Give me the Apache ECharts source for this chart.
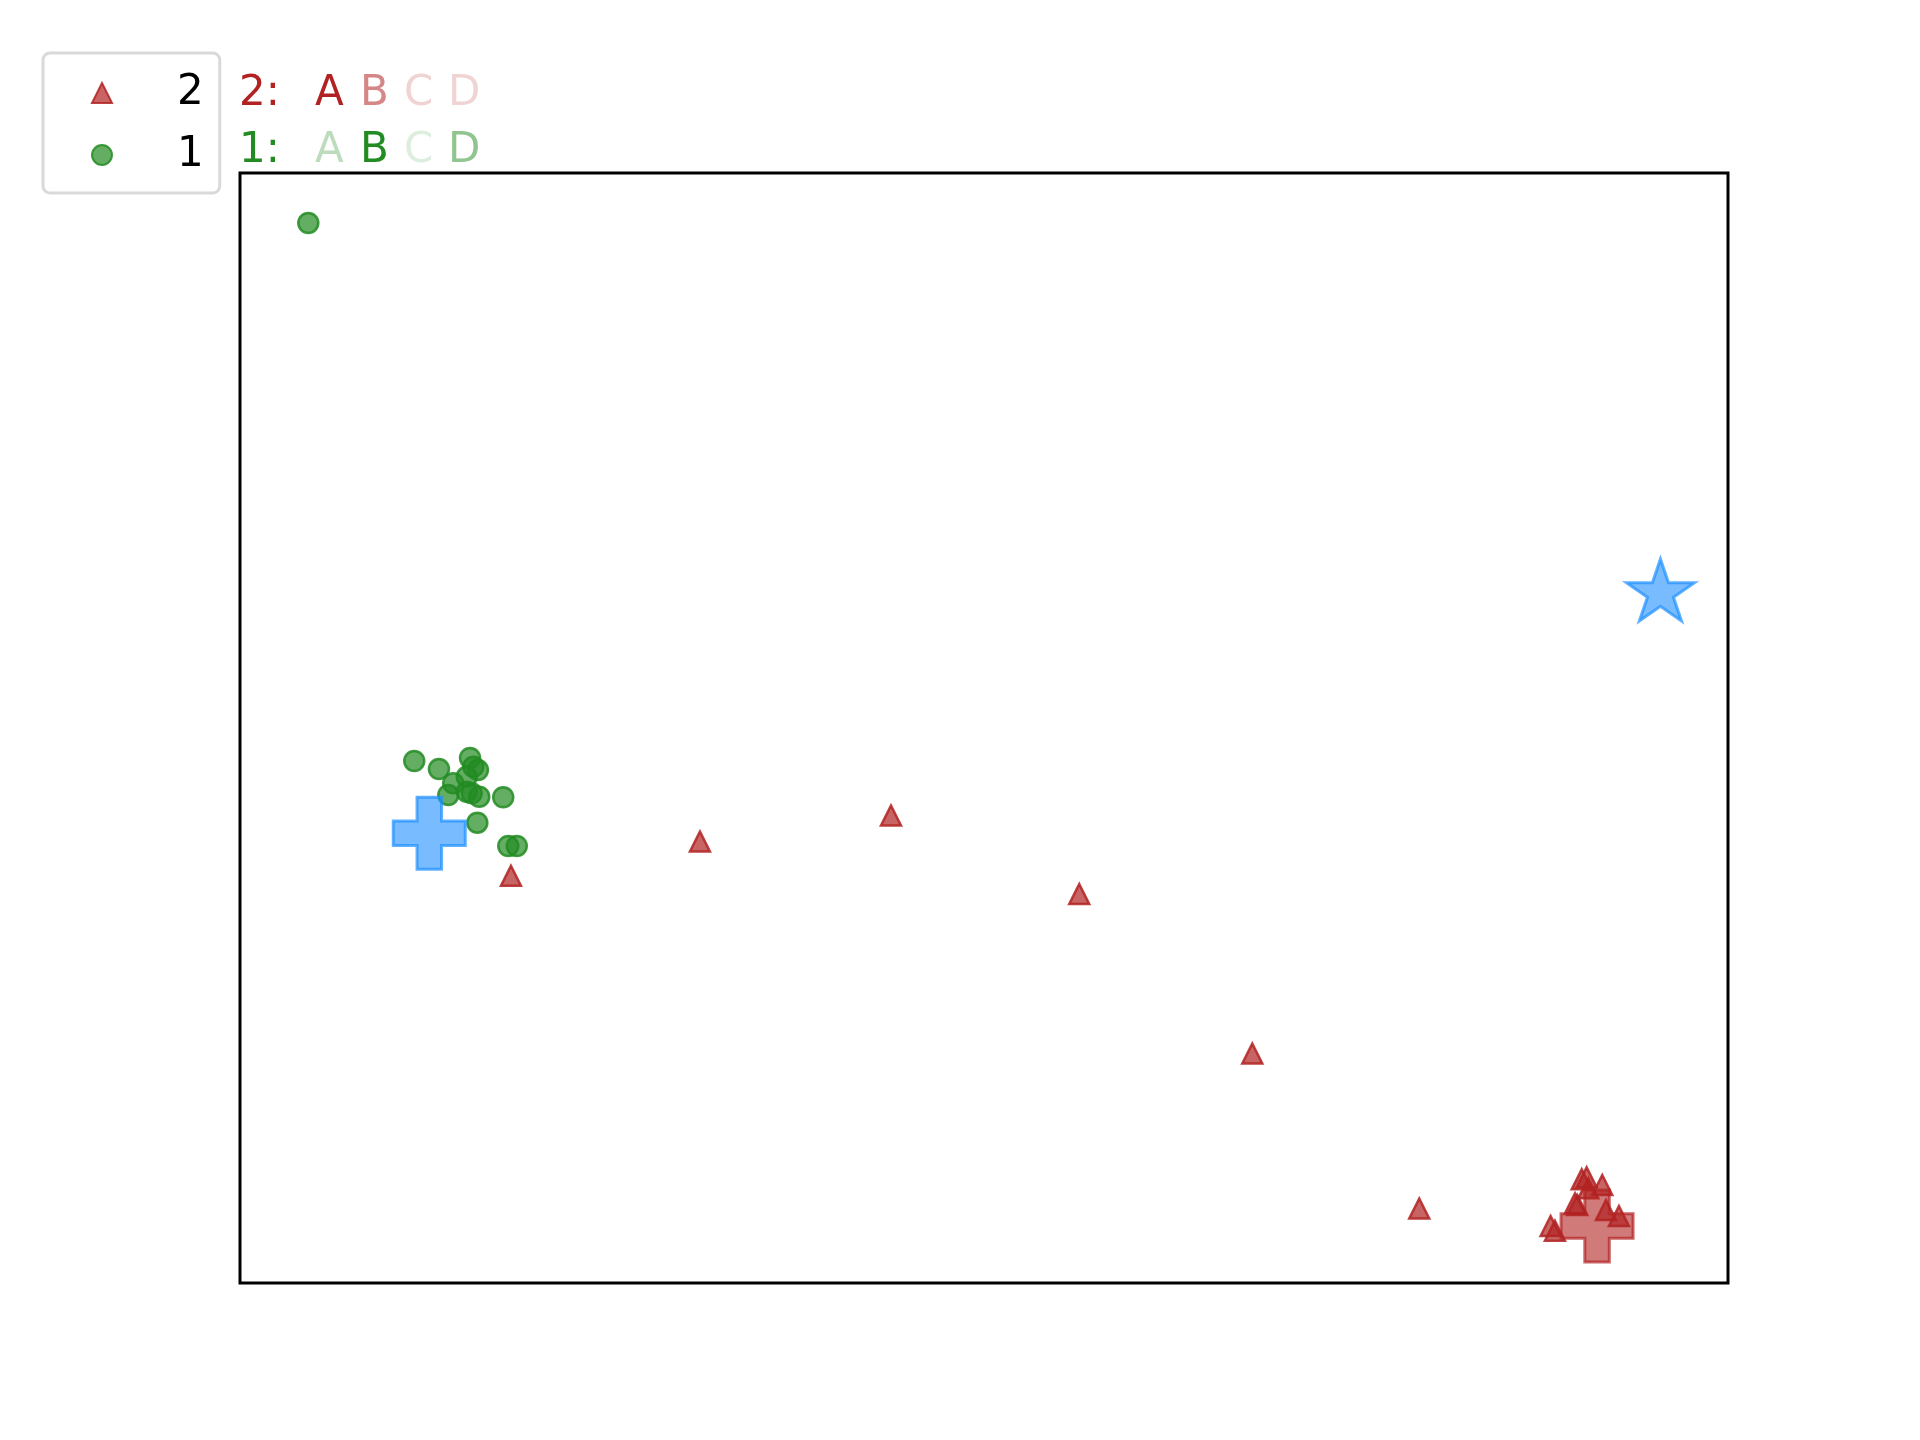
<!DOCTYPE html>
<html>
<head>
<meta charset="utf-8">
<script src="https://cdn.jsdelivr.net/npm/echarts@6/dist/echarts.min.js"></script>
<style>
  html, body { margin: 0; padding: 0; background: #fff; }
  #chart { width: 1920px; height: 1440px; }
</style>
</head>
<body>
<div id="chart"></div>
<script>
// class 2 (red triangles)
var class2X = [18.21, 30.91, 43.75, 56.40, 68.03, 79.25, 90.17, 90.50, 90.61, 91.55, 89.72, 89.87, 91.80, 92.67, 88.08, 88.37];
var class2Y = [36.69, 39.77, 42.12, 35.05, 20.68, 6.71, 9.34, 9.52, 8.53, 8.83, 7.18, 7.03, 6.58, 6.04, 5.14, 4.71];
// class 1 (green circles)
var class1X = [4.59, 11.71, 13.37, 15.46, 15.68, 15.99, 15.24, 14.33, 14.00, 15.24, 15.57, 16.08, 17.69, 15.95, 18.03, 18.60];
var class1Y = [95.5, 47.03, 46.31, 47.30, 46.51, 46.22, 45.61, 45.02, 43.96, 44.26, 44.12, 43.81, 43.76, 41.47, 39.37, 39.37];
// centres
var bluePlus = [12.72, 40.51];
var redPlus = [91.20, 5.14];
var starPoint = [95.46, 62.43];

// header rows
var letters = ['A', 'B', 'C', 'D'];
var row2Alpha = [1, 0.55, 0.2, 0.2];
var row1Alpha = [0.3, 1, 0.15, 0.5];

var FONT = 'DejaVu Sans';
var RED = '#b22222';
var GREEN = '#228b22';

function pairs(xs, ys) {
  return xs.map(function (x, i) { return [x, ys[i]]; });
}

var plusPath = 'path://M33 0L67 0L67 33L100 33L100 67L67 67L67 100L33 100L33 67L0 67L0 33L33 33Z';
var starPath = 'path://M100 0L122.45 69.1L195.11 69.1L136.33 111.8L158.78 180.9L100 138.2L41.22 180.9L63.67 111.8L4.89 69.1L77.55 69.1Z';

var letterX = [316, 361, 405, 449];
var headerGraphics = [];
function addRow(label, color, alphas, y) {
  headerGraphics.push({
    type: 'text', x: 239, y: y,
    style: { text: label, fill: color, font: '42px "' + FONT + '"', verticalAlign: 'middle' }
  });
  letters.forEach(function (l, i) {
    headerGraphics.push({
      type: 'text', x: letterX[i] - 1, y: y,
      style: { text: l, fill: color, opacity: alphas[i], font: '42px "' + FONT + '"', verticalAlign: 'middle' }
    });
  });
}
addRow('2:', RED, row2Alpha, 94);
addRow('1:', GREEN, row1Alpha, 151);

var chart = echarts.init(document.getElementById('chart'));
var option = {
  animation: false,
  backgroundColor: '#fff',
  grid: {
    left: 240, top: 173, width: 1488, height: 1110,
    show: true, borderColor: '#000', borderWidth: 3, backgroundColor: 'transparent'
  },
  xAxis: {
    type: 'value', min: 0, max: 100,
    axisLine: { show: false }, axisTick: { show: false },
    axisLabel: { show: false }, splitLine: { show: false }
  },
  yAxis: {
    type: 'value', min: 0, max: 100,
    axisLine: { show: false }, axisTick: { show: false },
    axisLabel: { show: false }, splitLine: { show: false }
  },
  legend: {
    data: ['2', '1'],
    orient: 'vertical',
    left: 43, top: 53,
    padding: [18, 16, 16, 48],
    itemWidth: 20, itemHeight: 20, itemGap: 18,
    backgroundColor: '#fff',
    borderColor: '#d9d9d9', borderWidth: 3, borderRadius: 7,
    textStyle: { fontSize: 42, fontFamily: FONT, color: '#000', lineHeight: 44, padding: [0, 0, 0, 60] }
  },
  graphic: headerGraphics,
  series: [
    {
      name: 'redCentre', type: 'scatter', symbol: plusPath, symbolSize: 72,
      data: [redPlus],
      itemStyle: { color: 'rgba(178,34,34,0.6)', borderColor: 'rgba(178,34,34,0.7)', borderWidth: 3, opacity: 1 }
    },
    {
      name: '2', type: 'scatter', symbol: 'triangle', symbolSize: 20,
      data: pairs(class2X, class2Y),
      itemStyle: { color: 'rgba(178,34,34,0.7)', borderColor: 'rgba(178,34,34,0.85)', borderWidth: 2.5, opacity: 1 }
    },
    {
      name: '1', type: 'scatter', symbol: 'circle', symbolSize: 20,
      data: pairs(class1X, class1Y),
      itemStyle: { color: 'rgba(34,139,34,0.7)', borderColor: 'rgba(34,139,34,0.85)', borderWidth: 2.5, opacity: 1 }
    },
    {
      name: 'blueCentre', type: 'scatter', symbol: plusPath, symbolSize: 72,
      data: [bluePlus],
      itemStyle: { color: 'rgba(30,144,255,0.6)', borderColor: 'rgba(30,144,255,0.7)', borderWidth: 3, opacity: 1 }
    },
    {
      name: 'star', type: 'scatter', symbol: starPath, symbolKeepAspect: true, symbolSize: [68, 65],
      data: [starPoint],
      itemStyle: { color: 'rgba(30,144,255,0.6)', borderColor: 'rgba(30,144,255,0.7)', borderWidth: 3, opacity: 1 }
    }
  ]
};
chart.setOption(option);
</script>
</body>
</html>
